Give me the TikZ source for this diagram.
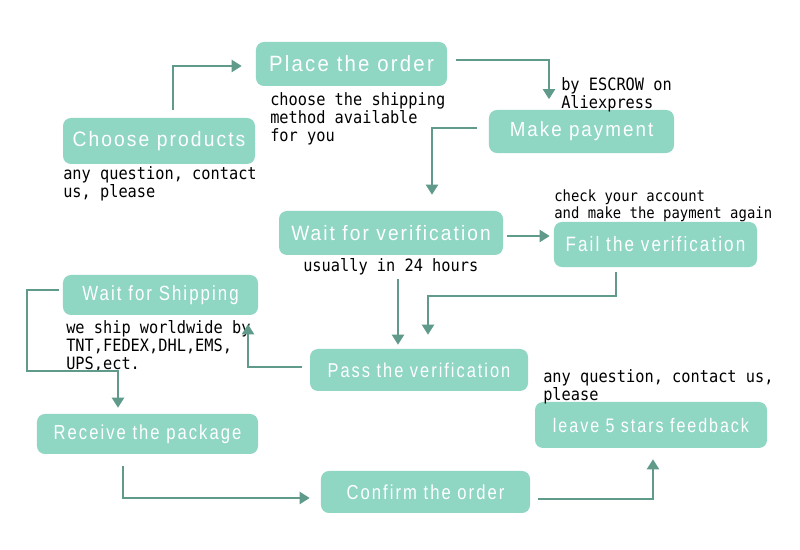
\documentclass[tikz,border=0pt]{standalone}
\usepackage{fontspec}
\usetikzlibrary{arrows.meta, calc}
\newfontfamily\boxfont[LetterSpace=10,FakeStretch=0.92]{Liberation Sans}
\newfontfamily\boxfontn[LetterSpace=10,FakeStretch=0.82]{Liberation Sans}
\newfontfamily\notefont[FakeStretch=0.9]{DejaVu Sans Mono}
\definecolor{boxcol}{HTML}{8FD6C3}
\definecolor{linecol}{HTML}{5F9A8B}
\tikzstyle{box} = [fill=boxcol, rounded corners=6pt, text=white, inner sep=0pt, align=center]
\tikzstyle{note} = [anchor=north west, inner sep=0pt, align=left, font=\notefont\fontsize{12.75}{13.5}\selectfont]
\tikzstyle{flow} = [draw=linecol, line width=1.5pt, -{Triangle[length=7.5pt,width=9pt]}]

\begin{document}
\begin{tikzpicture}[x=0.75pt, y=0.75pt]
\fill [white] (0,0) rectangle (800,550);

%nodes
\node (1) [box, minimum width=143.3pt, minimum height=33pt, font=\boxfont\fontsize{16.6}{18}\selectfont] at (351.5,486) {Place the order};
\node (2) [box, minimum width=144pt, minimum height=34.5pt, font=\boxfont\fontsize{15.7}{18}\selectfont] at (159,409) {Choose products};
\node (3) [box, minimum width=138.8pt, minimum height=32.3pt, font=\boxfont\fontsize{15.3}{18}\selectfont] at (581.5,418.5) {Make payment};
\node (4) [box, minimum width=168pt, minimum height=33pt, font=\boxfont\fontsize{15.6}{18}\selectfont] at (391,317) {Wait for verification};
\node (5) [box, minimum width=152.3pt, minimum height=33.8pt, font=\boxfontn\fontsize{15.6}{18}\selectfont] at (655.5,305.5) {Fail the verification};
\node (6) [box, minimum width=146.3pt, minimum height=30pt, font=\boxfontn\fontsize{15.4}{18}\selectfont] at (160.5,255) {Wait for Shipping};
\node (7) [box, minimum width=163.5pt, minimum height=31.5pt, font=\boxfontn\fontsize{15}{18}\selectfont] at (419,180) {Pass the verification};
\node (8) [box, minimum width=165.8pt, minimum height=30pt, font=\boxfontn\fontsize{15.2}{18}\selectfont] at (147.5,116) {Receive the package};
\node (9) [box, minimum width=174pt, minimum height=34.5pt, font=\boxfontn\fontsize{14.7}{18}\selectfont] at (651,125) {leave 5 stars feedback};
\node (10) [box, minimum width=156.8pt, minimum height=31.5pt, font=\boxfontn\fontsize{15.2}{18}\selectfont] at (425.5,58) {Confirm the order};

%notes
\node (11) [note] at (270,458) {choose the shipping\\method available\\for you};
\node (12) [note] at (63,384) {any question, contact\\us, please};
\node (13) [note] at (561,473) {by ESCROW on\\Aliexpress};
\node (14) [note, font=\notefont\fontsize{11.6}{12.75}\selectfont] at (554,361) {check your account\\and make the payment again};
\node (15) [note] at (303,292) {usually in 24 hours};
\node (16) [note] at (66,230) {we ship worldwide by\\TNT,FEDEX,DHL,EMS,\\UPS,ect.};
\node (17) [note] at (543,181) {any question, contact us,\\please};

%arrows
\draw [flow] ($(2.north)+(14,8)$) |- ($(1.west)+(-14,-2)$);
\draw [flow] ($(1.east)+(9,4)$) -| ($(3.north)+(-32.5,10.5)$);
\draw [flow] ($(3.west)+(-12,3.5)$) -| ($(4.north)+(41,16)$);
\draw [flow] ($(4.east)+(4,-3)$) -- ($(5.west)+(-4,8.5)$);
\draw [flow] ($(5.south)+(-39.5,-5)$) -- ++(0,-24) -| ($(7.north)+(9,14)$);
\draw [flow] ($(4.south)+(7,-24)$) -- ($(7.north)+(-21,4)$);
\draw [flow] ($(7.west)+(-8,3)$) -| ($(6.south)+(87.5,-9)$);
\draw [flow] ($(6.west)+(-4,5)$) -- ++(-32,0) -- ++(0,-81) -| ($(8.north)+(-29.5,6)$);
\draw [flow] ($(8.south)+(-24.5,-12)$) |- ($(10.west)+(-11,-6)$);
\draw [flow] ($(10.east)+(8,-7)$) -| ($(9.south)+(2,-11)$);

\end{tikzpicture}
\end{document}
